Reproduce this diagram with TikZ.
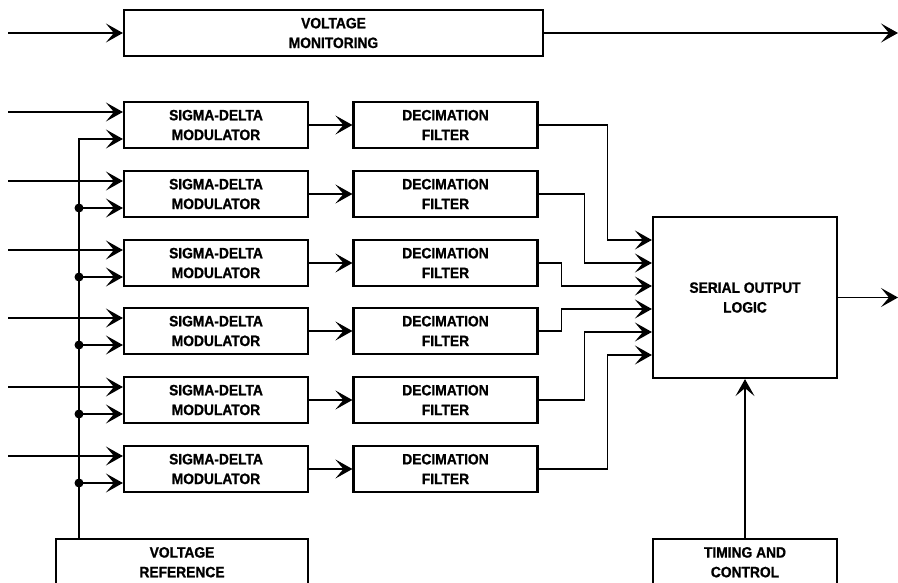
\documentclass[tikz,border=0pt]{standalone}
\usepackage{fontspec}
\setmainfont{Liberation Sans}[FakeStretch=0.92, BoldFeatures={FakeBold=1}]
\usetikzlibrary{arrows.meta,positioning}

\begin{document}
\begin{tikzpicture}[
    x=1pt, y=-1pt,
    box/.style={
        rectangle,
        draw,
        line width=2.2pt,
        minimum width=184pt,
        minimum height=46pt,
        inner sep=0pt,
        align=center,
        font=\fontsize{15}{19.7}\selectfont\bfseries
    },
    arrow/.style={-{Stealth[length=17pt, width=19pt, inset=8pt]}, line width=1.1pt},
    tap/.style={fill}
]
\clip (0,0) rectangle (898,583);

% Nodes
\node[box, minimum width=419pt] (vmon) at (333.5,33) {VOLTAGE\\MONITORING};

\node[box] (mod1) at (216,125) {SIGMA-DELTA\\MODULATOR};
\node[box] (mod2) at (216,194) {SIGMA-DELTA\\MODULATOR};
\node[box] (mod3) at (216,263) {SIGMA-DELTA\\MODULATOR};
\node[box] (mod4) at (216,331) {SIGMA-DELTA\\MODULATOR};
\node[box] (mod5) at (216,400) {SIGMA-DELTA\\MODULATOR};
\node[box] (mod6) at (216,469) {SIGMA-DELTA\\MODULATOR};

\node[box] (filt1) at (445.5,125) {DECIMATION\\FILTER};
\node[box] (filt2) at (445.5,194) {DECIMATION\\FILTER};
\node[box] (filt3) at (445.5,263) {DECIMATION\\FILTER};
\node[box] (filt4) at (445.5,331) {DECIMATION\\FILTER};
\node[box] (filt5) at (445.5,400) {DECIMATION\\FILTER};
\node[box] (filt6) at (445.5,469) {DECIMATION\\FILTER};

\node[box, minimum height=161pt] (sol) at (745,297.5) {SERIAL OUTPUT\\LOGIC};

\node[box, minimum width=252pt, anchor=north, inner ysep=8pt, text depth=40pt] (vref) at (182,538) {VOLTAGE\\REFERENCE};
\node[box, anchor=north, inner ysep=8pt, text depth=40pt] (tac) at (745,538) {TIMING AND\\CONTROL};

% Free ends
\coordinate (vin) at (8,33);
\coordinate (vout) at (898,33);
\coordinate (sout) at (898,297.5);
\coordinate (ina1) at (8,112);
\coordinate (ina2) at (8,181);
\coordinate (ina3) at (8,250);
\coordinate (ina4) at (8,318);
\coordinate (ina5) at (8,387);
\coordinate (ina6) at (8,456);
\coordinate (bus1) at (79,139);
\coordinate (bus2) at (79,208);
\coordinate (bus3) at (79,277);
\coordinate (bus4) at (79,345);
\coordinate (bus5) at (79,414);
\coordinate (bus6) at (79,483);

% Voltage monitoring path
\draw[arrow] (vin) -- (vmon);
\draw[arrow] (vmon) -- (vout);

% Analog inputs
\draw[arrow] (ina1) -- (ina1 -| mod1.west);
\draw[arrow] (ina2) -- (ina2 -| mod2.west);
\draw[arrow] (ina3) -- (ina3 -| mod3.west);
\draw[arrow] (ina4) -- (ina4 -| mod4.west);
\draw[arrow] (ina5) -- (ina5 -| mod5.west);
\draw[arrow] (ina6) -- (ina6 -| mod6.west);

% Reference bus
\draw[arrow] (vref.north -| bus1) -- (bus1) -- (bus1 -| mod1.west);
\draw[arrow] (bus2) -- (bus2 -| mod2.west);
\draw[arrow] (bus3) -- (bus3 -| mod3.west);
\draw[arrow] (bus4) -- (bus4 -| mod4.west);
\draw[arrow] (bus5) -- (bus5 -| mod5.west);
\draw[arrow] (bus6) -- (bus6 -| mod6.west);
\fill[tap] (bus2) circle[radius=4.5pt];
\fill[tap] (bus3) circle[radius=4.5pt];
\fill[tap] (bus4) circle[radius=4.5pt];
\fill[tap] (bus5) circle[radius=4.5pt];
\fill[tap] (bus6) circle[radius=4.5pt];

% Modulator to filter
\draw[arrow] (mod1) -- (filt1);
\draw[arrow] (mod2) -- (filt2);
\draw[arrow] (mod3) -- (filt3);
\draw[arrow] (mod4) -- (filt4);
\draw[arrow] (mod5) -- (filt5);
\draw[arrow] (mod6) -- (filt6);

% Filters into serial output logic
\draw[arrow] (filt1.east) -- ++(69,0) |- ([yshift=57.5pt]sol.west);
\draw[arrow] (filt2.east) -- ++(46,0) |- ([yshift=34.5pt]sol.west);
\draw[arrow] (filt3.east) -- ++(23,0) |- ([yshift=11.5pt]sol.west);
\draw[arrow] (filt4.east) -- ++(23,0) |- ([yshift=-11.5pt]sol.west);
\draw[arrow] (filt5.east) -- ++(46,0) |- ([yshift=-34.5pt]sol.west);
\draw[arrow] (filt6.east) -- ++(69,0) |- ([yshift=-57.5pt]sol.west);

% Output and timing
\draw[arrow] (sol) -- (sout);
\draw[arrow] (tac) -- (sol);

\end{tikzpicture}
\end{document}
